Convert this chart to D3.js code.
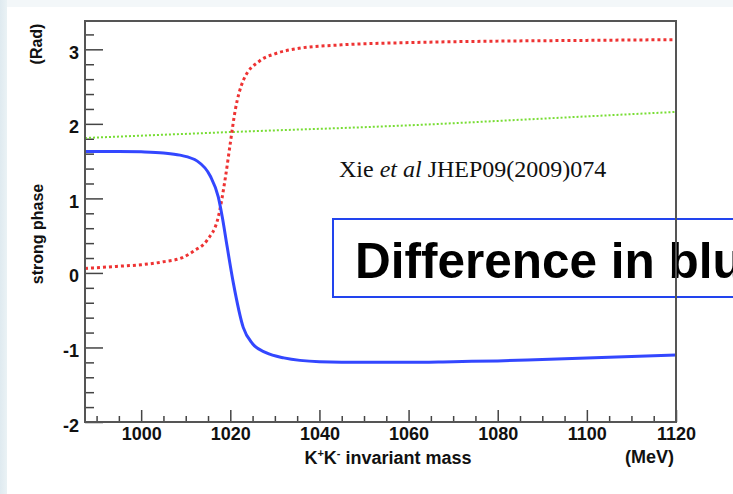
<!DOCTYPE html>
<html>
<head>
<meta charset="utf-8">
<script src="https://cdn.jsdelivr.net/npm/d3@7"></script>
<style>
  body { margin: 0; background: #fff; }
  .tick text { font-family: "Liberation Sans", Arial, sans-serif; font-weight: bold; font-size: 18px; fill: #111; }
  .tick line { stroke: #444; stroke-width: 1.5; }
</style>
</head>
<body>
<div id="chart"></div>
<script>
// strong phase (rad) vs K+K- invariant mass (MeV)
const blueMass = [987.4, 995, 1000, 1005, 1008.7, 1012.6, 1015.5, 1017.3, 1018.2, 1019.3, 1020.7, 1022.9, 1025, 1028, 1032, 1040, 1050, 1060, 1070, 1080, 1090, 1100, 1110, 1120];
const bluePhase = [1.63, 1.63, 1.625, 1.61, 1.58, 1.5, 1.3, 1.02, 0.75, 0.35, -0.14, -0.73, -0.95, -1.07, -1.14, -1.19, -1.2, -1.2, -1.19, -1.18, -1.16, -1.14, -1.12, -1.1];

const redMass = [987.4, 995, 1000, 1005, 1009.4, 1012, 1014.8, 1017.3, 1018.9, 1020, 1021.1, 1022.9, 1026.7, 1030, 1035, 1045, 1060, 1080, 1100, 1120];
const redPhase = [0.06, 0.09, 0.11, 0.15, 0.21, 0.3, 0.44, 0.75, 1.28, 1.74, 2.18, 2.58, 2.85, 2.94, 3.01, 3.06, 3.09, 3.11, 3.12, 3.13];

const greenMass = [987.4, 1020, 1060, 1090, 1120];
const greenPhase = [1.81, 1.89, 1.98, 2.07, 2.16];

const xTicks = [1000, 1020, 1040, 1060, 1080, 1100, 1120];
const yTicks = [-2, -1, 0, 1, 2, 3];

const width = 733, height = 494;
const frame = { left: 85, right: 676, top: 21, bottom: 422 };

const svg = d3.select("#chart").append("svg")
  .attr("width", width)
  .attr("height", height);

// slide-like background strips
const grad = svg.append("defs").append("linearGradient")
  .attr("id", "strip").attr("x1", 0).attr("x2", 1);
grad.append("stop").attr("offset", 0).attr("stop-color", "#dfeaf0");
grad.append("stop").attr("offset", 1).attr("stop-color", "#eaf2f5");
svg.append("rect").attr("x", 0).attr("y", 0).attr("width", width).attr("height", 7).attr("fill", "#f3f7f9");
svg.append("rect").attr("x", 0).attr("y", 0).attr("width", 7).attr("height", height).attr("fill", "url(#strip)");

const x = d3.scaleLinear().domain([987.4, 1120]).range([frame.left, frame.right]);
const y = d3.scaleLinear().domain([-2, 3.38]).range([frame.bottom, frame.top]);

svg.append("clipPath").attr("id", "clip").append("rect")
  .attr("x", frame.left).attr("y", frame.top)
  .attr("width", frame.right - frame.left).attr("height", frame.bottom - frame.top);

// minor ticks
svg.append("g")
  .attr("transform", `translate(0,${frame.bottom})`)
  .call(d3.axisBottom(x).tickValues(d3.range(990, 1120, 5).filter((v) => v % 20 !== 0)).tickSize(-6).tickFormat(""))
  .call((g) => g.select(".domain").remove());
svg.append("g")
  .attr("transform", `translate(${frame.left},0)`)
  .call(d3.axisLeft(y).tickValues(d3.range(-1.8, 3.3, 0.2).filter((v) => Math.abs(v - Math.round(v)) > 0.01)).tickSize(-9).tickFormat(""))
  .call((g) => g.select(".domain").remove());

// major ticks
svg.append("g")
  .attr("transform", `translate(0,${frame.bottom})`)
  .call(d3.axisBottom(x).tickValues(xTicks).tickSize(-12).tickPadding(5).tickFormat((d) => String(d)))
  .call((g) => g.select(".domain").remove());
svg.append("g")
  .attr("transform", `translate(${frame.left},0)`)
  .call(d3.axisLeft(y).tickValues(yTicks).tickSize(-18).tickPadding(6).tickFormat((d) => String(d)))
  .call((g) => g.select(".domain").remove())
  .selectAll("text").attr("dy", "0.5em");

// curves
const plot = svg.append("g").attr("clip-path", "url(#clip)");
const line = d3.line().x((d) => x(d[0])).y((d) => y(d[1])).curve(d3.curveMonotoneX);

plot.append("path")
  .datum(greenMass.map((m, i) => [m, greenPhase[i]]))
  .attr("d", line)
  .attr("fill", "none")
  .attr("stroke", "#77dd33")
  .attr("stroke-width", 2)
  .attr("stroke-dasharray", "2,2");

plot.append("path")
  .datum(redMass.map((m, i) => [m, redPhase[i]]))
  .attr("d", line)
  .attr("fill", "none")
  .attr("stroke", "#ee3333")
  .attr("stroke-width", 3)
  .attr("stroke-dasharray", "3,3");

plot.append("path")
  .datum(blueMass.map((m, i) => [m, bluePhase[i]]))
  .attr("d", line)
  .attr("fill", "none")
  .attr("stroke", "#3347ff")
  .attr("stroke-width", 3);

// reference note
const note = svg.append("text")
  .attr("x", 339)
  .attr("y", 177)
  .attr("font-family", "Liberation Serif, Times New Roman, serif")
  .attr("font-size", 24)
  .attr("fill", "#111");
note.append("tspan").text("Xie ");
note.append("tspan").attr("font-style", "italic").text("et al");
note.append("tspan").text(" JHEP09(2009)074");

// callout box
svg.append("rect")
  .attr("x", 333).attr("y", 219)
  .attr("width", 420).attr("height", 78)
  .attr("fill", "none")
  .attr("stroke", "#2244ee")
  .attr("stroke-width", 2);
svg.append("text")
  .attr("x", 355).attr("y", 278)
  .attr("font-family", "Liberation Sans, Arial, sans-serif")
  .attr("font-weight", "bold")
  .attr("font-size", 49.5)
  .attr("fill", "#000")
  .text("Difference in blue");

// frame
svg.append("rect")
  .attr("x", frame.left).attr("y", frame.top)
  .attr("width", frame.right - frame.left).attr("height", frame.bottom - frame.top)
  .attr("fill", "none")
  .attr("stroke", "#555")
  .attr("stroke-width", 2);

// axis titles
const xt = svg.append("text")
  .attr("x", 388).attr("y", 464)
  .attr("text-anchor", "middle")
  .attr("font-family", "Liberation Sans, Arial, sans-serif")
  .attr("font-weight", "bold")
  .attr("font-size", 18)
  .attr("fill", "#111");
xt.append("tspan").text("K");
xt.append("tspan").attr("dy", -7).attr("font-size", 11).text("+");
xt.append("tspan").attr("dy", 7).text("K");
xt.append("tspan").attr("dy", -7).attr("font-size", 11).text("-");
xt.append("tspan").attr("dy", 7).text(" invariant mass");

svg.append("text")
  .attr("x", 674).attr("y", 463)
  .attr("text-anchor", "end")
  .attr("font-family", "Liberation Sans, Arial, sans-serif")
  .attr("font-weight", "bold")
  .attr("font-size", 18)
  .attr("fill", "#111")
  .text("(MeV)");

svg.append("text")
  .attr("transform", "translate(43,234) rotate(-90)")
  .attr("text-anchor", "middle")
  .attr("font-family", "Liberation Sans, Arial, sans-serif")
  .attr("font-weight", "bold")
  .attr("font-size", 16)
  .attr("fill", "#111")
  .text("strong phase");

svg.append("text")
  .attr("transform", "translate(42,44) rotate(-90)")
  .attr("text-anchor", "middle")
  .attr("font-family", "Liberation Sans, Arial, sans-serif")
  .attr("font-weight", "bold")
  .attr("font-size", 16)
  .attr("fill", "#111")
  .text("(Rad)");
</script>
</body>
</html>
